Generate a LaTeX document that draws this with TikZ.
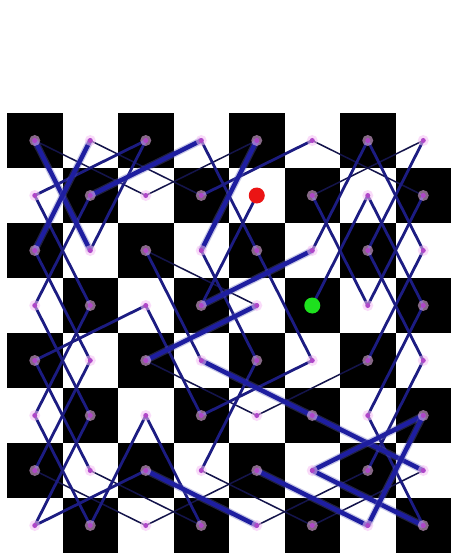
\documentclass[tikz,border=0pt]{standalone}
\definecolor{tk}{RGB}{30,30,160}
\definecolor{md}{RGB}{28,28,130}
\definecolor{tn}{RGB}{20,20,75}
\definecolor{dotc}{RGB}{175,70,200}
\definecolor{halo}{RGB}{245,190,245}
\tikzset{
  sq/.style={fill=black},
  thk/.style={draw=tk, line width=4.5pt, line cap=round, preaction={draw=tk!70, line width=7pt, opacity=0.35}},
  med/.style={draw=md, line width=2.8pt, line cap=round},
  thn/.style={draw=tn, line width=1.5pt, line cap=round},
  vdot/.style={circle, fill=dotc, inner sep=0pt, minimum size=5pt},
  hdot/.style={circle, fill=halo, opacity=0.55, inner sep=0pt, minimum size=11pt},
  reddot/.style={circle, fill={rgb,255:red,235;green,20;blue,20}, inner sep=0pt, minimum size=16pt},
  greendot/.style={circle, fill={rgb,255:red,30;green,225;blue,30}, inner sep=0pt, minimum size=16pt}
}
\begin{document}
\begin{tikzpicture}[x=1pt,y=-1pt]
\useasboundingbox (0,0) rectangle (451,556);
\fill[white] (0,0) rectangle (451,556);
\foreach \c in {0,...,7}{
  \foreach \r in {0,...,7}{
    \pgfmathtruncatemacro\pty{mod(\c+\r,2)}
    \ifnum\pty=0
      \fill[sq] ({7+55.5*\c},{113+55*\r}) rectangle ({7+55.5*(\c+1)},{113+55*(\r+1)});
    \fi
    \coordinate (n\c\r) at ({34.75+55.5*\c},{140.5+55*\r});
  }
}
% thin moves
\draw[thn] (n00) -- (n21);
\draw[thn] (n10) -- (n31);
\draw[thn] (n06) -- (n27);
\draw[thn] (n21) -- (n40);
\draw[thn] (n50) -- (n71);
\draw[thn] (n70) -- (n51);
\draw[thn] (n43) -- (n22);
\draw[thn] (n16) -- (n37);
\draw[thn] (n36) -- (n57);
\draw[thn] (n27) -- (n46);
\draw[thn] (n45) -- (n24);
\draw[thn] (n45) -- (n64);
\draw[thn] (n47) -- (n66);
\draw[thn] (n57) -- (n76);
% medium moves
\draw[med] (n01) -- (n20);
\draw[med] (n01) -- (n13);
\draw[med] (n11) -- (n03);
\draw[med] (n02) -- (n14);
\draw[med] (n03) -- (n15);
\draw[med] (n04) -- (n23);
\draw[med] (n04) -- (n16);
\draw[med] (n05) -- (n13);
\draw[med] (n05) -- (n17);
\draw[med] (n14) -- (n06);
\draw[med] (n07) -- (n15);
\draw[med] (n07) -- (n26);
\draw[med] (n12) -- (n20);
\draw[med] (n50) -- (n31);
\draw[med] (n60) -- (n52);
\draw[med] (n60) -- (n72);
\draw[med] (n70) -- (n62);
\draw[med] (n61) -- (n53);
\draw[med] (n61) -- (n73);
\draw[med] (n71) -- (n63);
\draw[med] (n51) -- (n63);
\draw[med] (n41) -- (n33);
\draw[med] (n30) -- (n42);
\draw[med] (n42) -- (n54);
\draw[med] (n72) -- (n64);
\draw[med] (n73) -- (n65);
\draw[med] (n17) -- (n25);
\draw[med] (n25) -- (n37);
\draw[med] (n34) -- (n22);
\draw[med] (n35) -- (n23);
\draw[med] (n35) -- (n54);
\draw[med] (n36) -- (n44);
\draw[med] (n44) -- (n32);
\draw[med] (n62) -- (n74);
\draw[med] (n74) -- (n66);
\draw[med] (n65) -- (n77);
% thick moves
\draw[thk] (n00) -- (n12);
\draw[thk] (n10) -- (n02);
\draw[thk] (n11) -- (n30);
\draw[thk] (n40) -- (n32);
\draw[thk] (n52) -- (n33);
\draw[thk] (n43) -- (n24);
\draw[thk] (n34) -- (n55);
\draw[thk] (n55) -- (n76);
\draw[thk] (n26) -- (n47);
\draw[thk] (n46) -- (n67);
\draw[thk] (n56) -- (n75);
\draw[thk] (n56) -- (n77);
\draw[thk] (n75) -- (n67);
% square markers
\foreach \c in {0,...,7}{
  \foreach \r in {0,...,7}{
    \node[hdot] (h\c\r) at (n\c\r) {};
    \node[vdot] (d\c\r) at (n\c\r) {};
  }
}
\node[reddot] (start) at (n41) {};
\node[greendot] (finish) at (n53) {};
\end{tikzpicture}
\end{document}
